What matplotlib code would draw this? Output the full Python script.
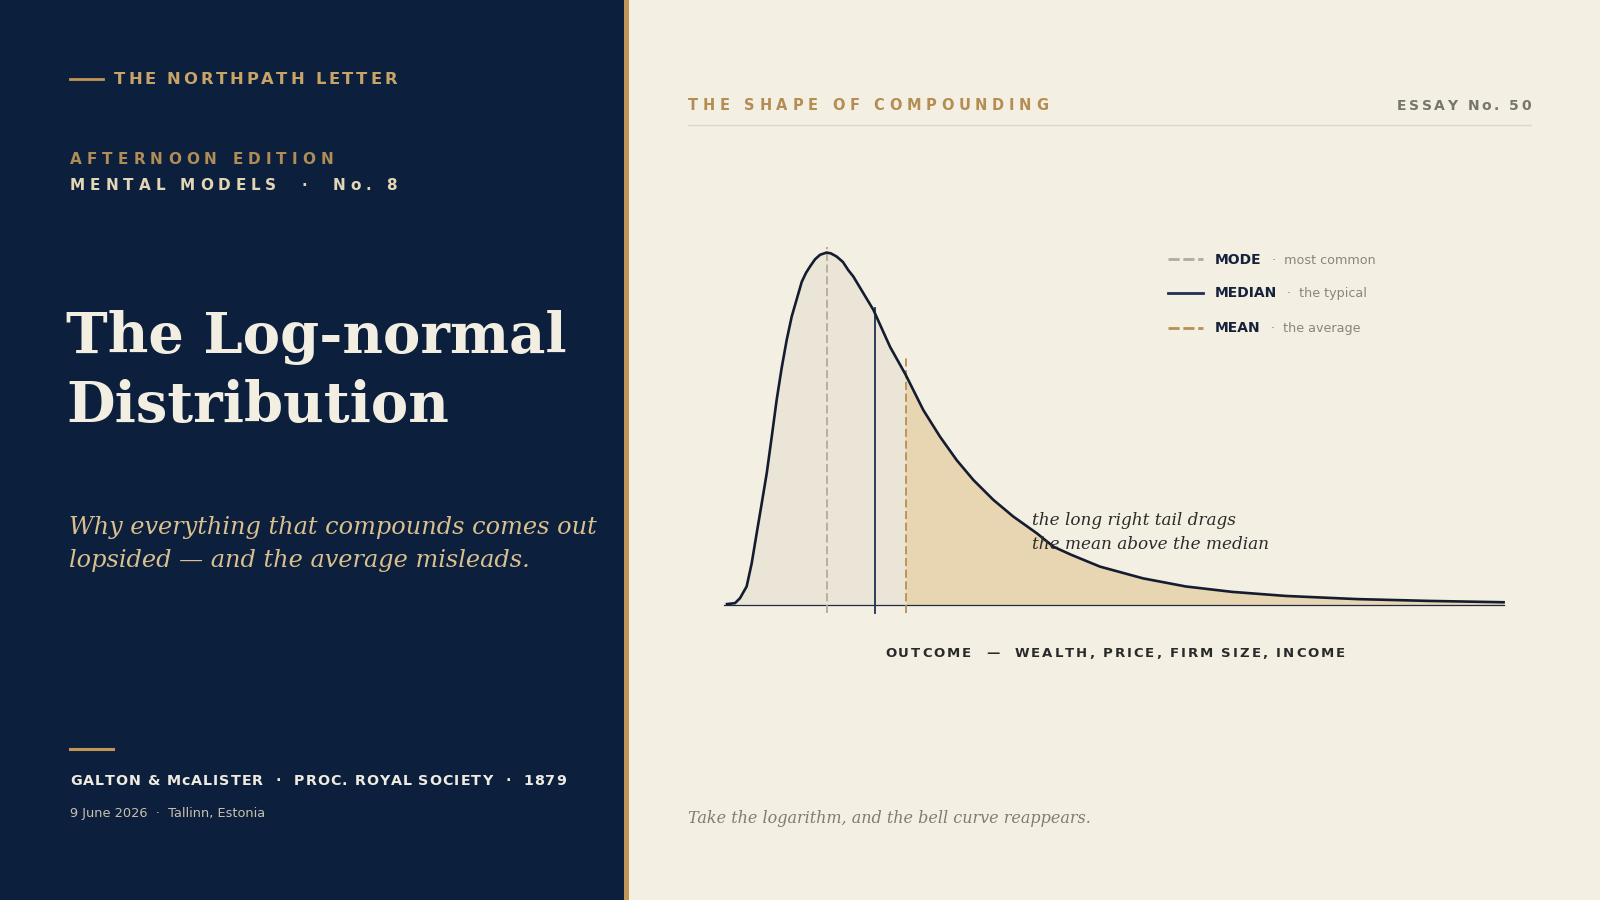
import numpy as np
import matplotlib
matplotlib.use("Agg")
import matplotlib.pyplot as plt
from matplotlib.font_manager import FontProperties
from matplotlib.lines import Line2D
from matplotlib.patches import Rectangle

# --- data --------------------------------------------------------------
# outcome (median = 1) and density of the skewed curve
outcome = [0.000, 0.054, 0.088, 0.133, 0.167, 0.201, 0.235, 0.269, 0.303, 0.336,
           0.370, 0.404, 0.438, 0.506, 0.535, 0.562, 0.596, 0.630, 0.675, 0.704,
           0.743, 0.785, 0.821, 0.855, 0.991, 1.104, 1.210, 1.329, 1.442, 1.555,
           1.668, 1.803, 1.938, 2.097, 2.211, 2.332, 2.525, 2.816, 3.106, 3.420,
           3.783, 4.266, 4.750, 5.258]
density = [0.002, 0.004, 0.015, 0.041, 0.092, 0.159, 0.225, 0.292, 0.373, 0.454,
           0.525, 0.587, 0.639, 0.716, 0.736, 0.750, 0.766, 0.776, 0.781, 0.779,
           0.772, 0.760, 0.742, 0.728, 0.654, 0.572, 0.510, 0.432, 0.373, 0.321,
           0.277, 0.233, 0.196, 0.159, 0.129, 0.111, 0.085, 0.059, 0.041, 0.029,
           0.020, 0.013, 0.009, 0.006]

mode_x, median_x, mean_x = 0.675, 1.0, 1.21
mode_top, median_top, mean_top = 0.794, 0.657, 0.548
marker_bottom = -0.017

legend_names = ["MODE", "MEDIAN", "MEAN"]
legend_notes = ["most common", "the typical", "the average"]

# --- colours -------------------------------------------------------------
NAVY = "#0c1f3c"
CREAM = "#f3efe3"
GOLD = "#c09658"
GOLD_TXT = "#c9a467"
INK = "#16213a"
GREY = "#8a857b"
LIGHT_FILL = "#ebe5d7"
TAN_FILL = "#e8d5b1"
MODE_C = "#b3ab9c"
MEDIAN_C = "#1f3152"
MEAN_C = "#b88f55"

W, H = 1600, 900
fig = plt.figure(figsize=(16, 9), dpi=100)
fig.patch.set_facecolor(CREAM)
renderer = fig.canvas.get_renderer()


def fx(px):
    return px / W


def fy(py):
    return 1 - py / H


def text_w(s, prop):
    w, h, d = renderer.get_text_width_height_descent(s, prop, ismath=False)
    return w


def spaced(px, py, s, size, color, width, ha="left", weight="bold"):
    # letter-spaced text, stretched to the given pixel width
    prop = FontProperties(family="DejaVu Sans", weight=weight, size=size)
    bar = text_w("||", prop)
    adv = [text_w("|" + ch + "|", prop) - bar for ch in s]
    track = (width - sum(adv)) / (len(s) - 1)
    start = px
    if ha == "right":
        start = px - width
    elif ha == "center":
        start = px - width / 2
    pos = start
    for ch, a in zip(s, adv):
        if ch != " ":
            fig.text(fx(pos), fy(py), ch, fontproperties=prop, color=color,
                     va="baseline", ha="left")
        pos += a + track


def hline(x0, x1, y, color, lw, **kw):
    fig.add_artist(Line2D([fx(x0), fx(x1)], [fy(y), fy(y)], color=color, lw=lw,
                          transform=fig.transFigure, **kw))


# --- left panel ----------------------------------------------------------
fig.add_artist(Rectangle((0, 0), fx(624), 1, transform=fig.transFigure,
                         facecolor=NAVY, edgecolor="none", zorder=0))
fig.add_artist(Rectangle((fx(624), 0), fx(5), 1, transform=fig.transFigure,
                         facecolor=GOLD, edgecolor="none", zorder=0))

hline(70, 103, 79.3, GOLD, 2)
spaced(114, 84.5, "THE NORTHPATH LETTER", 11.8, GOLD_TXT, 283)
spaced(70, 164, "AFTERNOON EDITION", 11, "#b08d57", 263)
spaced(70, 190, "MENTAL MODELS  ·  No. 8", 11, "#e3d6b6", 327)

serif = "DejaVu Serif"
fig.text(fx(66), fy(353.3), "The Log-normal", family=serif, weight="bold", size=40.3,
         color="#f3eee2", va="baseline")
fig.text(fx(66), fy(421.7), "Distribution", family=serif, weight="bold", size=40.3,
         color="#f3eee2", va="baseline")

fig.text(fx(69), fy(534), "Why everything that compounds comes out", family=serif,
         style="italic", size=17.3, color="#d9c08f", va="baseline")
fig.text(fx(69), fy(567), "lopsided — and the average misleads.", family=serif,
         style="italic", size=17.3, color="#d9c08f", va="baseline")

hline(70, 112.7, 749.3, GOLD, 2.2)
spaced(70, 785, "GALTON & McALISTER  ·  PROC. ROYAL SOCIETY  ·  1879", 10.3,
       "#f0ebe0", 496)
fig.text(fx(70), fy(816.7), "9 June 2026  ·  Tallinn, Estonia", family="DejaVu Sans",
         size=9.3, color="#c9c1ae", va="baseline")

# --- right panel header ----------------------------------------------------
spaced(688, 110, "THE SHAPE OF COMPOUNDING", 10.5, "#b58d52", 360)
spaced(1531, 110, "ESSAY No. 50", 10, "#77756e", 134, ha="right")
hline(688, 1531, 124.5, "#dcd7c8", 1)

# --- chart -------------------------------------------------------------------
ax = fig.add_axes([fx(727), fy(618.5), fx(1503.6) - fx(727), (618.5 - 221.4) / H])
ax.set_xlim(0, 5.258)
ax.set_ylim(-0.03, 0.85)
ax.axis("off")

x = np.array(outcome)
y = np.array(density)
ax.fill_between(x, 0, y, color=LIGHT_FILL, lw=0, zorder=1)
ax.fill_between(x, 0, y, where=x >= mean_x, color=TAN_FILL, lw=0, zorder=1)

ax.plot([-0.02, x[-1]], [0, 0], color="#1f2a44", lw=0.9, zorder=2, clip_on=False)

ax.plot([mode_x, mode_x], [marker_bottom, mode_top], color=MODE_C, lw=1.3,
        ls=(0, (4.5, 2)), zorder=3, clip_on=False)
ax.plot([median_x, median_x], [marker_bottom, median_top], color=MEDIAN_C, lw=1.3,
        zorder=3, clip_on=False)
ax.plot([mean_x, mean_x], [marker_bottom, mean_top], color=MEAN_C, lw=1.3,
        ls=(0, (4.5, 2)), zorder=3, clip_on=False)

ax.plot(x, y, color="#141d30", lw=1.9, zorder=4, solid_joinstyle="round",
        clip_on=False)

fig.text(fx(1032), fy(525), "the long right tail drags", family=serif, style="italic",
         size=12.2, color="#2b2b2b", va="baseline")
fig.text(fx(1032), fy(549.3), "the mean above the median", family=serif,
         style="italic", size=12.2, color="#2b2b2b", va="baseline")

spaced(1115, 657, "OUTCOME  —  WEALTH, PRICE, FIRM SIZE, INCOME", 9.5, "#2a2a2a", 460,
       ha="center")

# legend
leg_y = [259.3, 293.3, 327.5]
leg_style = [dict(color=MODE_C, ls=(0, (4, 1.35))), dict(color=MEDIAN_C, ls="-"),
             dict(color=MEAN_C, ls=(0, (4, 1.35)))]
note_x = [1272, 1287, 1271]
for i in range(3):
    hline(1168.3, 1202.7, leg_y[i], lw=2, **leg_style[i])
    fig.text(fx(1215), fy(leg_y[i] + 4.2), legend_names[i], family="DejaVu Sans",
             weight="bold", size=10, color=INK, va="baseline")
    fig.text(fx(note_x[i]), fy(leg_y[i] + 4.2), "·  " + legend_notes[i],
             family="DejaVu Sans", size=9.2, color=GREY, va="baseline")

fig.text(fx(688), fy(823.3), "Take the logarithm, and the bell curve reappears.",
         family=serif, style="italic", size=11.5, color="#807c72", va="baseline")

fig.savefig("out.png", dpi=100, facecolor=fig.get_facecolor())
